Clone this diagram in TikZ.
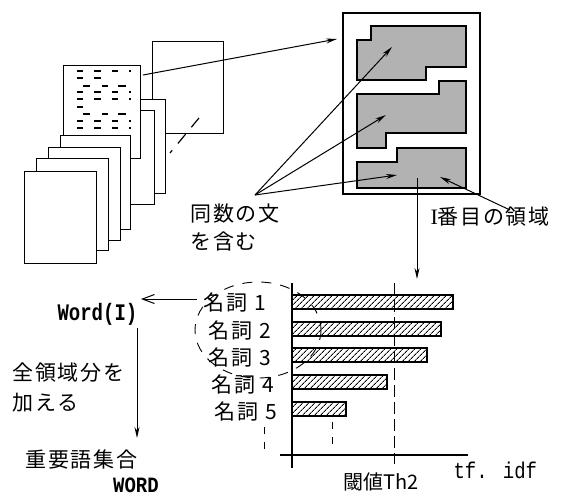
\documentclass[tikz,border=0pt]{standalone}
\usepackage{fontspec}
\setmainfont{Liberation Serif}
\newfontfamily\cjk[LetterSpace=8]{Noto Sans CJK JP}
\newfontfamily\cjkplain{Noto Sans CJK JP}
\newfontfamily\mono{Liberation Mono}
\usetikzlibrary{arrows.meta,patterns.meta}
\begin{document}
\begin{tikzpicture}[x=1pt,y=-1pt,line width=1pt,
  page/.style={draw,fill=white,line width=1pt},
  region/.style={draw,fill=black!30,line width=1.3pt},
  arr/.style={-{Stealth[length=11pt,width=5pt]},line width=1pt},
  barb/.style={-{Straight Barb[length=12pt,width=9pt]},line width=1pt},
  jp/.style={font=\cjk\fontsize{21}{25}\selectfont,inner sep=0pt,anchor=west},
  mn/.style={font=\mono\bfseries\fontsize{19}{22}\selectfont,inner sep=0pt},
  txtdash/.style={line width=1.8pt},
  bar/.style={draw,line width=1.2pt,pattern={Lines[angle=45,distance=4pt,line width=0.9pt]}},
  thr/.style={line width=1pt,dash pattern=on 12pt off 5pt},
  sdash/.style={line width=1pt,dash pattern=on 7pt off 8pt}]
\useasboundingbox (0,0) rectangle (563,499);

% ---- stack of documents ----
\draw[page] (152,41) rectangle (223,133);
\draw[line width=1.2pt,dash pattern=on 12pt off 9pt] (199,118) -- (170,153);
\draw[page] (93,99) rectangle (165,193);
\draw[page] (82,110) rectangle (154,204);
\draw[page] (63,65) rectangle (140,158);
% text lines on the page
\foreach \y in {71,92,99,121,128}{
  \draw[txtdash] (77,\y) -- (83,\y) (94,\y) -- (101,\y) (112,\y) -- (118,\y) (129,\y) -- (131,\y);}
\foreach \y in {78}{\draw[txtdash] (77,\y) -- (83,\y) (94,\y) -- (101,\y);}
\foreach \y in {107}{\draw[txtdash] (77,\y) -- (83,\y);}
\foreach \y in {86,114}{
  \draw[txtdash] (83,\y) -- (90,\y) (102,\y) -- (108,\y) (118,\y) -- (126,\y);}
\draw[page] (60,135) rectangle (130,229);
\draw[page] (48,147) rectangle (120,240);
\draw[page] (36,158) rectangle (108,250);
\draw[page] (24,171) rectangle (96,263);

% ---- page with regions ----
\draw[line width=1.3pt,fill=white] (343,13) rectangle (480,194);
\draw[region] (371,26) -- (466,26) -- (466,67) -- (426,67) -- (426,80) -- (357,80) -- (357,40) -- (371,40) -- cycle;
\draw[region] (357,94) -- (439,94) -- (439,81) -- (466,81) -- (466,133) -- (386,133) -- (386,148) -- (357,148) -- cycle;
\draw[region] (357,162) -- (397,162) -- (397,148) -- (466,148) -- (466,188) -- (357,188) -- cycle;

\coordinate (docout) at (143,75);
\coordinate (bigin) at (337,39);
\draw[arr] (docout) -- (bigin);

% ---- labels and arrows to regions ----
\node[jp] (same1) at (190,214) {同数の文};
\node[jp] (same2) at (190,242) {を含む};
\coordinate (orig) at (255,195);
\coordinate (r1) at (392,47);
\coordinate (r2) at (386,115);
\coordinate (r3) at (397,175);
\draw[arr] (orig) -- (r1);
\draw[arr] (orig) -- (r2);
\draw[arr] (orig) -- (r3);

\node[jp] (ith) at (430,217) {{\rmfamily\fontsize{22}{25}\selectfont I}番目の領域};
\coordinate (ithfrom) at (510,210);
\coordinate (ithto) at (440,177);
\draw[arr] (ithfrom) -- (ithto);

\coordinate (down1) at (417,178);
\coordinate (down2) at (417,279);
\draw[arr] (down1) -- (down2);

% ---- bar chart ----
\draw[line width=1.2pt] (292,283) -- (292,468);
\draw[line width=1.2pt] (280,455) -- (468,455);
\draw[bar] (292,295) rectangle (453,309);
\draw[bar] (292,322) rectangle (441,336);
\draw[bar] (292,348) rectangle (427,362);
\draw[bar] (292,375) rectangle (387,389);
\draw[bar] (292,402) rectangle (346,416);
\draw[thr] (394,283) -- (394,464);
\draw[sdash] (332,422) -- (332,450);
\draw[sdash] (264,427) -- (264,452);
\draw[line width=0.9pt,dash pattern=on 10pt off 9pt] (258,330) ellipse [x radius=63,y radius=48];

\node[jp] (n1) at (203,303) {名詞\hspace{7pt}1};
\node[jp] (n2) at (208,331) {名詞\hspace{7pt}2};
\node[jp] (n3) at (208,358) {名詞\hspace{7pt}3};
\node[jp] (n4) at (211,385) {名詞\hspace{7pt}4};
\node[jp] (n5) at (214,412) {名詞\hspace{7pt}5};

\node[font=\cjkplain\fontsize{20}{24}\selectfont,inner sep=0pt] (th) at (381,482) {閾値Th2};
\node[font=\mono\fontsize{19}{22}\selectfont,inner sep=0pt,anchor=west] (tfidf) at (453,470) {\scalebox{1}[1.2]{tf. idf}};

% ---- left side ----
\node[mn,anchor=west] (wordI) at (57,314) {\scalebox{1}[1.25]{Word(I)}};
\coordinate (n1left) at (197,299);
\coordinate (wordIin) at (141,299);
\draw[barb] (n1left) -- (wordIin);
\coordinate (wd1) at (137,328);
\coordinate (wd2) at (137,438);
\draw[arr] (wd1) -- (wd2);
\node[jp] (all1) at (12,373) {全領域分を};
\node[jp] (all2) at (12,403) {加える};
\node[jp] (imp) at (25,460) {重要語集合};
\node[mn] (WORD) at (136,485) {\scalebox{1}[1.15]{WORD}};
\end{tikzpicture}
\end{document}
